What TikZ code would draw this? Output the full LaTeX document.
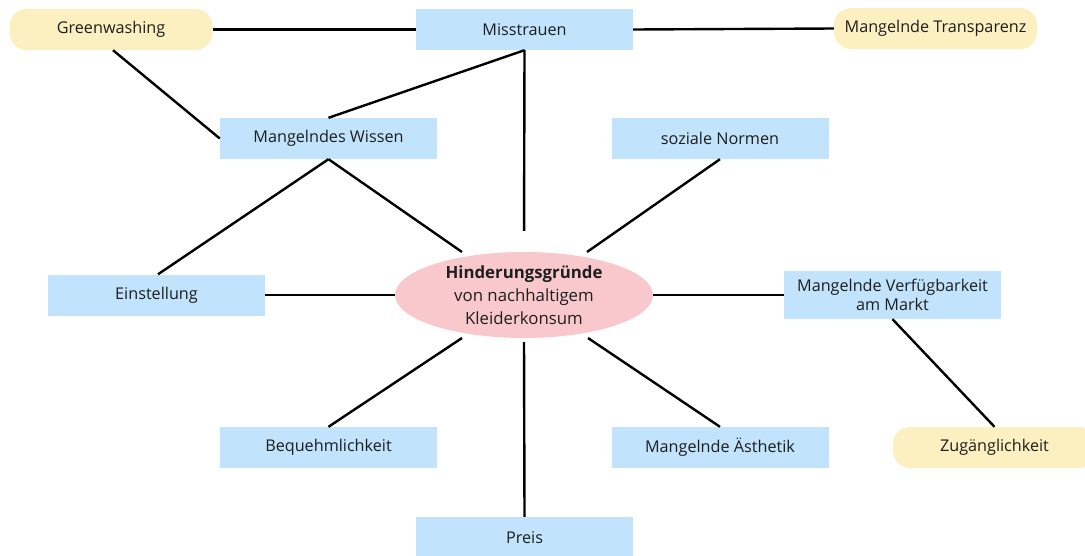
\documentclass[tikz,border=0pt]{standalone}
\usepackage{fontspec}
\setmainfont{Open Sans}
\usetikzlibrary{shapes.geometric,calc}
\definecolor{boxblue}{RGB}{193,227,251}
\definecolor{boxyellow}{RGB}{252,240,192}
\definecolor{ellpink}{RGB}{249,200,205}
\definecolor{txt}{RGB}{30,30,30}
\tikzset{
  bluebox/.style={fill=boxblue, minimum width=217pt, minimum height=41pt, inner sep=0pt, align=center, text=txt, font=\fontsize{16.2}{19.5}\selectfont},
  yellowbox/.style={fill=boxyellow, rounded corners=17pt, minimum width=203pt, minimum height=41pt, inner sep=0pt, text=txt, font=\fontsize{16.2}{19.5}\selectfont},
  centre/.style={ellipse, fill=ellpink, minimum width=258pt, minimum height=86pt, inner sep=0pt, align=center, text=txt, font=\fontsize{16.8}{23}\selectfont},
  link/.style={line width=2.4pt, black}
}
\begin{document}
\begin{tikzpicture}[x=1pt,y=-1pt]
\clip (0,0) rectangle (1085,555);
\fill[white] (0,0) rectangle (1085,555);
% nodes
\node[yellowbox] (gw) at (111,29.5) {Greenwashing};
\node[bluebox] (mi) at (524.5,29.5) {Misstrauen};
\node[yellowbox] (mt) at (935.5,28.5) {Mangelnde Transparenz};
\node[bluebox] (mw) at (328.5,138.5) {Mangelndes Wissen};
\node[bluebox] (sn) at (720,138.5) {soziale Normen};
\node[bluebox] (es) at (156.5,295) {Einstellung};
\node[centre] (c) at (524,295) {\textbf{Hinderungsgründe}\\von nachhaltigem\\Kleiderkonsum};
\node[bluebox, minimum height=48pt] (mv) at (892.5,295) {Mangelnde Verfügbarkeit\\am Markt};
\node[bluebox] (bq) at (328.5,447.5) {Bequehmlichkeit};
\node[bluebox] (ma) at (720,447.5) {Mangelnde Ästhetik};
\node[yellowbox] (zg) at (994.5,447.5) {Zugänglichkeit};
\node[bluebox] (pr) at (524.5,537.5) {Preis};
% connector ends just outside the ellipse
\coordinate (cnw) at ($(c.center)+(-62,-43)$);
\coordinate (cne) at ($(c.center)+(63,-43)$);
\coordinate (csw) at ($(c.center)+(-62,43)$);
\coordinate (cse) at ($(c.center)+(64,43)$);
% connectors
\draw[link] (gw.east) -- (mi.west);
\draw[link] (mi.east) -- (mt.west);
\draw[link] ([xshift=2pt]gw.south) -- (mw.west);
\draw[link] (mi.south) -- (mw.north);
\draw[link, shorten >=21pt] (mi.south) -- (c.north);
\draw[link] (mw.south) -- ([xshift=1.5pt]es.north);
\draw[link] (mw.south) -- (cnw);
\draw[link] (sn.south) -- (cne);
\draw[link] (es.east) -- (c.west);
\draw[link] (c.east) -- (mv.west);
\draw[link] (csw) -- (bq.north);
\draw[link, shorten <=4pt] (c.south) -- (pr.north);
\draw[link] (cse) -- (ma.north);
\draw[link] (mv.south) -- (zg.north);
\end{tikzpicture}
\end{document}
